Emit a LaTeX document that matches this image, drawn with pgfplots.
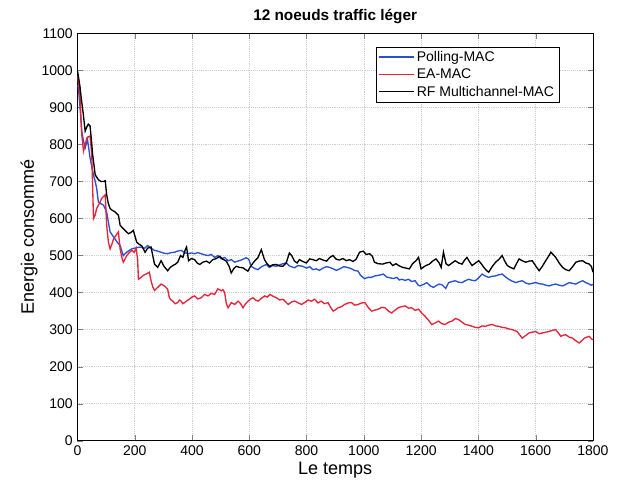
\documentclass[border=0pt]{standalone}
\usepackage{pgfplots}
\pgfplotsset{compat=1.18}
\usepackage{fontspec}
\setmainfont{Liberation Sans}

\definecolor{pollblue}{RGB}{40,80,210}
\definecolor{eared}{RGB}{230,35,55}

% legend sample drawn as a coloured rule (text colour survives xdvipdfmx)
\newcommand\legline[1]{\node[anchor=west, inner sep=0pt] at (0pt,0pt) {\textcolor{#1}{\rule[-0.5pt]{26pt}{1pt}}};}

\begin{document}
\begin{tikzpicture}
\begin{axis}[
    scale only axis,
    width=386pt, height=305pt,
    xmin=0, xmax=1800, ymin=0, ymax=1100,
    xtick={0,200,...,1800},
    ytick={0,100,...,1100},
    /pgf/number format/assume math mode=true,
    /pgf/number format/set thousands separator={},
    tick label style={font=\fontsize{10.5}{12}\selectfont},
    tick align=inside,
    major tick length=4pt,
    axis line style={line width=0.6pt},
    grid=major,
    major grid style={densely dotted, gray!40, line width=0.4pt},
    title={\fontsize{11.5}{14}\selectfont\bfseries 12 noeuds traffic léger},
    title style={yshift=-2pt},
    xlabel={\fontsize{13.5}{16}\selectfont Le temps},
    ylabel={\fontsize{13.5}{16}\selectfont Energie consommé},
    xlabel style={yshift=2pt},
    ylabel style={yshift=-4pt},
    legend style={at={(axis description cs:1,1)}, anchor=north east,
        xshift=-25pt, yshift=-10.5pt,
        font=\fontsize{10.5}{12}\selectfont,
        draw=black, text=black, fill=white,
        inner xsep=2pt, inner ysep=1pt, row sep=0pt,
        cells={anchor=west}},
    every axis plot/.append style={line width=1pt},
]
\addlegendimage{legend image code/.code={\legline{pollblue}}}
\addlegendentry{Polling-MAC}
\addlegendimage{legend image code/.code={\legline{eared}}}
\addlegendentry{EA-MAC}
\addlegendimage{legend image code/.code={\legline{black}}}
\addlegendentry{RF Multichannel-MAC}
% Polling-MAC
\addplot[draw=pollblue, forget plot] coordinates {
(0,960)(3,955)(9,900)(15,836)(21,810)(27,791)(35,814)(44,764)(50,740)(56,718)
(62,700)(67,682)(73,645)(82,640)(91,636)(102,618)(108,590)(114,564)(122,555)(131,545)
(140,535)(149,527)(155,512)(160,500)(166,505)(172,509)(181,514)(190,518)(200,520)(210,522)
(222,523)(235,520)(245,527)(257,520)(269,514)(280,512)(292,509)(304,506)(315,505)(327,508)
(339,509)(350,512)(362,514)(374,508)(386,505)(398,507)(409,505)(420,508)(432,505)(444,502)
(456,500)(467,503)(479,495)(491,500)(502,491)(514,495)(526,486)(537,489)(549,482)(560,485)
(572,488)(589,494)(598,490)(607,471)(619,465)(630,462)(643,470)(659,476)(670,468)(682,473)
(694,471)(706,475)(717,478)(729,480)(740,472)(758,467)(770,473)(787,471)(800,466)(811,470)
(822,462)(834,464)(845,460)(857,466)(870,470)(881,468)(893,464)(905,460)(918,465)(930,470)
(942,468)(955,465)(967,460)(980,458)(988,447)(1002,438)(1015,441)(1025,441)(1039,445)(1054,447)
(1068,450)(1080,442)(1091,440)(1103,438)(1115,441)(1124,434)(1132,436)(1144,433)(1156,436)(1167,430)
(1179,432)(1190,420)(1196,418)(1208,422)(1220,427)(1232,418)(1243,414)(1255,420)(1263,423)(1273,421)
(1286,411)(1296,427)(1308,430)(1319,432)(1331,428)(1343,427)(1354,432)(1366,436)(1378,433)(1389,432)
(1401,440)(1413,450)(1424,445)(1436,441)(1448,444)(1460,445)(1471,448)(1483,450)(1495,442)(1506,436)
(1518,431)(1530,427)(1542,430)(1553,432)(1565,426)(1577,423)(1588,425)(1600,427)(1612,424)(1624,423)
(1635,420)(1647,418)(1658,421)(1670,423)(1682,420)(1694,418)(1705,422)(1717,427)(1729,425)(1740,423)
(1752,428)(1764,432)(1775,427)(1787,423)(1794,420)(1800,422)
};
% EA-MAC
\addplot[draw=eared, forget plot] coordinates {
(0,985)(5,960)(9,927)(15,827)(21,782)(27,800)(33,818)(44,823)(50,773)(56,600)
(62,610)(67,627)(76,640)(85,655)(97,664)(102,582)(108,536)(114,518)(120,530)(126,545)
(135,555)(143,564)(149,518)(155,495)(160,482)(166,490)(172,500)(181,508)(190,514)(198,509)
(205,520)(210,490)(213,436)(222,441)(231,447)(240,450)(251,455)(257,432)(263,415)(269,406)
(280,414)(292,423)(304,418)(315,409)(321,386)(327,380)(333,377)(341,370)(350,373)(356,380)
(362,377)(368,370)(374,373)(382,378)(391,382)(400,388)(409,391)(420,383)(432,386)(444,395)
(456,391)(467,398)(479,395)(490,410)(502,405)(508,408)(514,400)(520,370)(526,359)(531,365)
(537,373)(549,368)(561,377)(570,370)(578,359)(587,370)(596,377)(605,383)(613,386)(622,380)
(631,377)(643,385)(654,391)(663,388)(672,395)(683,390)(695,386)(706,380)(718,382)(727,375)
(736,368)(748,375)(759,377)(771,372)(783,368)(795,374)(805,380)(817,377)(828,382)(840,372)
(851,377)(862,370)(875,373)(884,360)(893,350)(902,354)(910,359)(922,362)(933,368)(945,372)
(957,373)(968,366)(980,368)(992,372)(1004,373)(1015,360)(1027,350)(1039,353)(1050,355)(1062,360)
(1074,359)(1086,350)(1097,345)(1108,352)(1120,359)(1132,362)(1144,364)(1156,358)(1167,359)(1179,352)
(1191,355)(1202,345)(1214,336)(1226,325)(1237,314)(1249,318)(1261,323)(1272,316)(1284,314)(1296,320)
(1308,323)(1320,330)(1331,327)(1343,320)(1354,314)(1366,312)(1378,309)(1390,306)(1401,305)(1413,310)
(1424,309)(1436,312)(1448,314)(1460,310)(1471,309)(1483,306)(1494,305)(1506,302)(1518,300)(1535,295)
(1545,285)(1553,277)(1565,284)(1577,291)(1588,293)(1600,295)(1612,289)(1624,291)(1635,293)(1647,295)
(1658,298)(1670,300)(1680,290)(1688,282)(1697,285)(1705,286)(1717,280)(1729,277)(1740,270)(1752,264)
(1761,270)(1770,277)(1780,280)(1787,282)(1795,275)(1800,273)
};
% RF Multichannel-MAC
\addplot[draw=black, forget plot] coordinates {
(0,1000)(3,986)(9,955)(14,920)(19,891)(27,836)(33,848)(38,855)(44,850)(49,810)
(53,773)(62,718)(73,705)(82,700)(91,700)(97,702)(102,664)(108,640)(114,627)(122,622)
(131,618)(143,609)(149,582)(157,575)(166,568)(178,559)(186,562)(195,568)(207,536)(216,530)
(224,527)(236,509)(245,520)(257,523)(263,500)(269,477)(280,468)(292,486)(303,470)(315,459)
(324,468)(333,473)(341,476)(350,482)(360,500)(368,495)(376,515)(381,523)(388,486)(398,492)
(409,489)(418,480)(427,476)(438,482)(450,485)(461,480)(473,489)(485,492)(497,498)(508,490)
(520,485)(530,470)(537,453)(546,465)(555,471)(566,468)(578,467)(587,462)(595,458)(604,470)
(613,480)(622,488)(630,494)(642,516)(653,489)(662,478)(671,471)(682,475)(694,476)(705,472)
(717,471)(729,480)(740,507)(748,500)(758,485)(767,480)(775,489)(787,484)(799,480)(811,491)
(822,489)(834,486)(845,492)(857,488)(870,485)(881,495)(892,500)(904,490)(915,488)(927,492)
(939,486)(950,489)(962,484)(973,490)(985,509)(998,512)(1008,503)(1020,505)(1030,498)(1037,482)
(1050,478)(1066,477)(1078,480)(1091,482)(1101,473)(1112,478)(1124,472)(1136,468)(1148,466)(1159,464)
(1170,478)(1182,486)(1191,495)(1200,464)(1214,472)(1229,477)(1240,485)(1252,491)(1263,480)(1270,468)
(1278,509)(1287,478)(1296,473)(1308,480)(1319,486)(1331,480)(1343,477)(1352,488)(1360,495)(1370,482)
(1378,473)(1390,480)(1401,486)(1410,478)(1419,468)(1428,460)(1436,455)(1448,470)(1460,482)(1472,490)
(1483,500)(1492,485)(1501,473)(1512,468)(1524,464)(1533,478)(1542,491)(1553,486)(1565,482)(1577,485)
(1588,486)(1600,472)(1612,459)(1624,472)(1635,486)(1645,498)(1653,509)(1662,502)(1670,495)(1682,480)
(1694,468)(1705,462)(1717,459)(1729,470)(1740,482)(1752,485)(1764,486)(1775,480)(1787,477)(1795,470)
(1800,455)
};
\end{axis}
\pgfresetboundingbox
\path ([shift={(-58pt,-43pt)}]current axis.south west) rectangle ([shift={(22.5pt,25pt)}]current axis.north east);
\end{tikzpicture}
\end{document}
